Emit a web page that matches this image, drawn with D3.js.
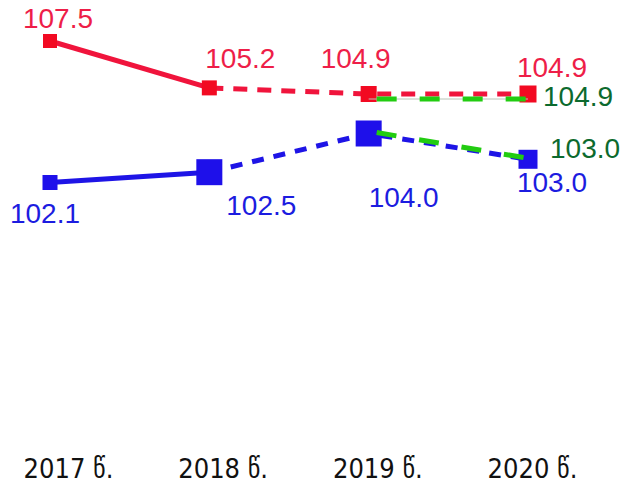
<!DOCTYPE html>
<html>
<head>
<meta charset="utf-8">
<script src="https://cdn.jsdelivr.net/npm/d3@7"></script>
<style>
  body { margin: 0; background: #fff; }
  svg { display: block; }
</style>
</head>
<body>
<div id="chart"></div>
<script>
const years = ["2017", "2018", "2019", "2020"];
const yearLabels = ["2017 წ.", "2018 წ.", "2019 წ.", "2020 წ."];
const redValues = [107.5, 105.2, 104.9, 104.9];
const blueValues = [102.1, 102.5, 104.0, 103.0];
// green forecast segments (2019 -> 2020)
const greenUpper = [104.9, 104.9];
const greenLower = [104.0, 103.0];

const width = 621, height = 484;

// marker sizes and label offsets, per point
const redSize = [14, 15, 16, 17];
const blueSize = [15, 26, 26, 19];
const redLabelOff = [[8, -13], [31, -20], [-13, -26], [24, -17]];
const blueLabelOff = [[-5, 40], [52, 43], [35, 73], [24, 33]];

const svg = d3.select("#chart").append("svg")
  .attr("width", width)
  .attr("height", height);

const x = d3.scalePoint().domain(years).range([50, 528]);
const xLab = d3.scalePoint().domain(years).range([68, 532]);
const yRed = d3.scaleLinear().domain([107.5, 104.9]).range([41, 94]);
const yBlue = d3.scaleLinear().domain([102.1, 104.0]).range([182.5, 133.5]);

const red = "#f0143c", redMark = "#f20a22", redText = "#ee1e48";
const blue = "#1e14e6", blueMark = "#1e10ea", blueText = "#1c1ce0";
const green = "#22cc11", greenText = "#0c6a2e";

const redPts = redValues.map((v, i) => [x(years[i]), yRed(v)]);
const bluePts = blueValues.map((v, i) => [x(years[i]), yBlue(v)]);
const line = d3.line();

// red: solid 2017-2018, dashed after
svg.append("path").attr("d", line(redPts.slice(0, 2)))
  .attr("fill", "none").attr("stroke", red).attr("stroke-width", 5);
svg.append("path").attr("d", line(redPts.slice(1)))
  .attr("fill", "none").attr("stroke", red).attr("stroke-width", 5)
  .attr("stroke-dasharray", "14,10");

svg.selectAll(".rm").data(redPts).enter().append("rect")
  .attr("x", (d, i) => d[0] - redSize[i] / 2)
  .attr("y", (d, i) => d[1] - redSize[i] / 2)
  .attr("width", (d, i) => redSize[i])
  .attr("height", (d, i) => redSize[i])
  .attr("fill", redMark);

// blue
svg.append("path").attr("d", line(bluePts.slice(0, 2)))
  .attr("fill", "none").attr("stroke", blue).attr("stroke-width", 5);
svg.append("path").attr("d", line(bluePts.slice(1)))
  .attr("fill", "none").attr("stroke", blue).attr("stroke-width", 5)
  .attr("stroke-dasharray", "12,10");

svg.selectAll(".bm").data(bluePts).enter().append("rect")
  .attr("x", (d, i) => d[0] - blueSize[i] / 2)
  .attr("y", (d, i) => d[1] - blueSize[i] / 2)
  .attr("width", (d, i) => blueSize[i])
  .attr("height", (d, i) => blueSize[i])
  .attr("fill", blueMark);

// green
const gUp = greenUpper.map((v, i) => [x(years[i + 2]), yRed(v) + 5]);
const gLo = greenLower.map((v, i) => [x(years[i + 2]), yBlue(v) - 1]);
svg.append("path").attr("d", line(gUp))
  .attr("fill", "none").attr("stroke", "#b8c4b8").attr("stroke-width", 1);
[gUp, gLo].forEach(pts => {
  svg.append("path").attr("d", line([[pts[0][0] + 8, pts[0][1]], pts[1]]))
    .attr("fill", "none").attr("stroke", green).attr("stroke-width", 5)
    .attr("stroke-dasharray", "20,23");
});

// value labels
const labelFont = "'Liberation Sans', Arial, sans-serif";
svg.selectAll(".rl").data(redValues).enter().append("text")
  .attr("x", (d, i) => x(years[i]) + redLabelOff[i][0])
  .attr("y", (d, i) => yRed(d) + redLabelOff[i][1])
  .attr("text-anchor", "middle")
  .style("font-family", labelFont).style("font-size", "28px")
  .attr("fill", redText)
  .text(d => d.toFixed(1));

svg.selectAll(".bl").data(blueValues).enter().append("text")
  .attr("x", (d, i) => x(years[i]) + blueLabelOff[i][0])
  .attr("y", (d, i) => yBlue(d) + blueLabelOff[i][1])
  .attr("text-anchor", "middle")
  .style("font-family", labelFont).style("font-size", "28px")
  .attr("fill", blueText)
  .text(d => d.toFixed(1));

svg.selectAll(".gl").data([[greenUpper[1], gUp[1], 15, 7], [greenLower[1], gLo[1], 22, 0]])
  .enter().append("text")
  .attr("x", d => d[1][0] + d[2])
  .attr("y", d => d[1][1] + d[3])
  .style("font-family", labelFont).style("font-size", "28px")
  .attr("fill", greenText)
  .text(d => d[0].toFixed(1));

// year axis
const axis = d3.axisBottom(xLab).tickSize(0).tickFormat((d, i) => yearLabels[i]);
const ax = svg.append("g").attr("transform", "translate(0,452)").call(axis);
ax.select(".domain").remove();
ax.selectAll("text")
  .attr("dy", 0).attr("y", 26)
  .style("font-family", "'Liberation Sans Narrow', 'Arial Narrow', 'DejaVu Sans Condensed', sans-serif")
  .style("font-size", "27px")
  .attr("fill", "#111");
</script>
</body>
</html>
